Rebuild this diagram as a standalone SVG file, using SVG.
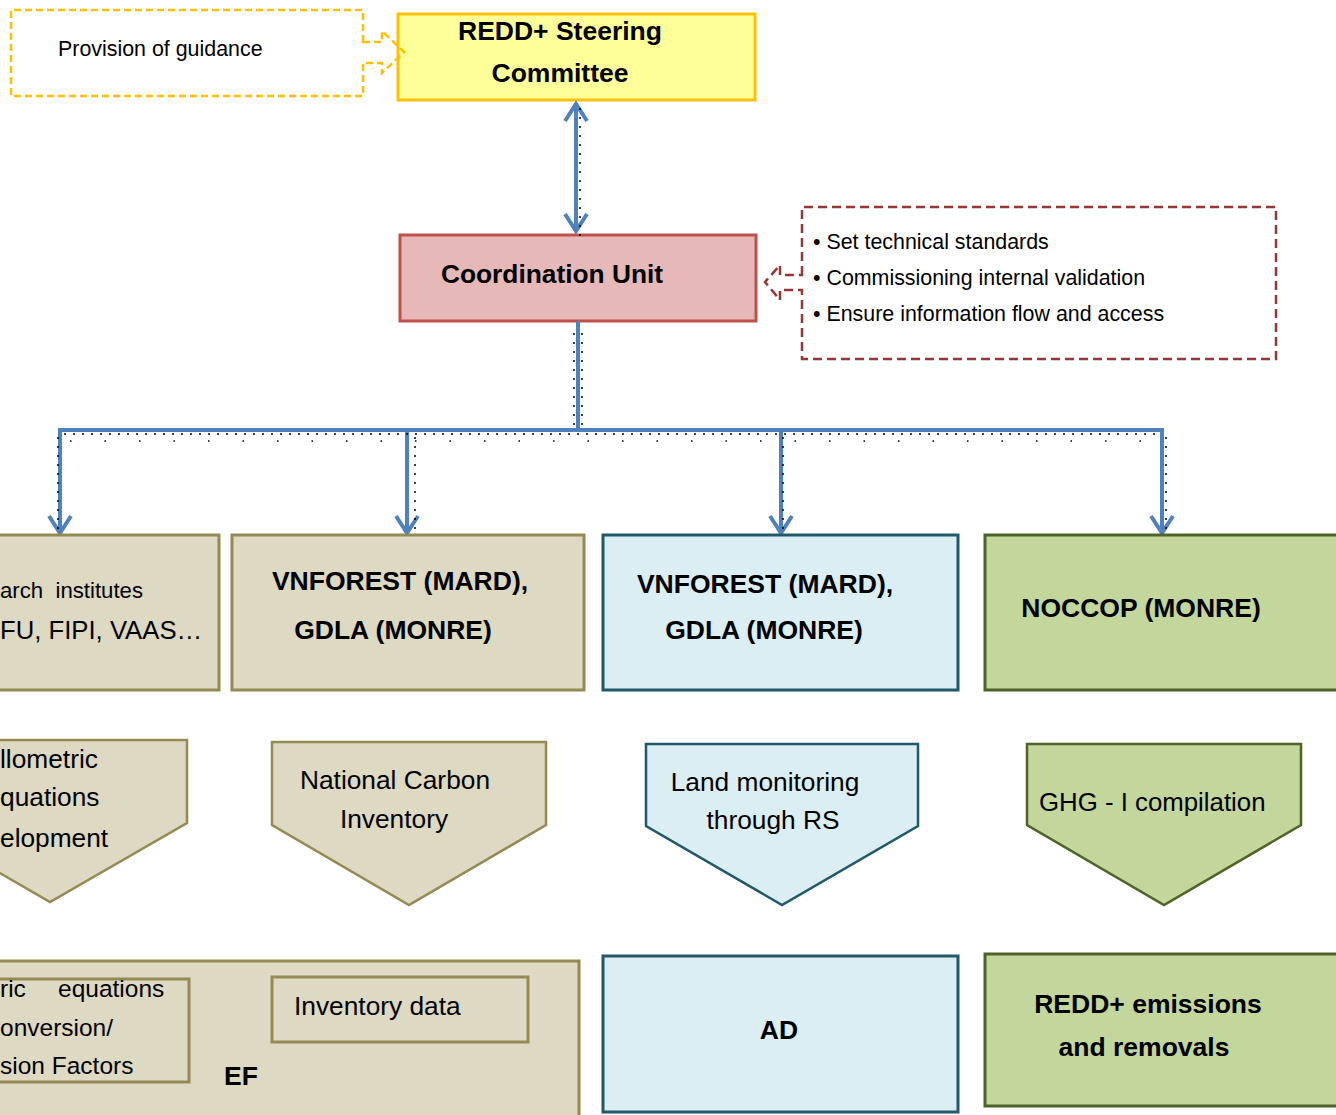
<svg xmlns="http://www.w3.org/2000/svg" width="1336" height="1115" viewBox="0 0 1336 1115">
<style>
text{font-family:"Liberation Sans",Arial,sans-serif;fill:#000}
.b{font-weight:bold;font-size:26.5px}
.r{font-size:26.3px}
.s{font-size:21.4px}
.tan{fill:#DDD9C3;stroke:#948A54;stroke-width:3}
.blue{fill:#DBEEF4;stroke:#215968;stroke-width:3}
.green{fill:#C3D69B;stroke:#4F6228;stroke-width:3}
.conn{fill:none;stroke:#4F81BD;stroke-width:4}
.dots{fill:none;stroke:#000;stroke-width:1.5;stroke-dasharray:2 7}
</style>
<defs>
<marker id="chev" markerUnits="userSpaceOnUse" markerWidth="40" markerHeight="40" viewBox="-20 -20 40 40" refX="0" refY="0" orient="auto-start-reverse" overflow="visible">
<path d="M-17,-11 L0,0 L-17,11" fill="none" stroke="#4F81BD" stroke-width="4" stroke-linejoin="miter"/>
</marker>
</defs>
<rect width="1336" height="1115" fill="#fff"/>

<g id="steering">
<rect x="398" y="14" width="357" height="86" fill="#FFFF99" stroke="#FFC000" stroke-width="3"/>
<text class="b" x="560" y="40" text-anchor="middle">REDD+ Steering</text>
<text class="b" x="560" y="82" text-anchor="middle">Committee</text>
</g>

<g id="guidance">
<path d="M363,42 V10 H11 V96 H363 V63 H382 V73 L404,52 L382,31 V42 Z" fill="none" stroke="#FFC000" stroke-width="2.5" stroke-dasharray="7 4"/>
<text class="s" x="58" y="56">Provision of guidance</text>
</g>

<g id="coordination">
<rect x="400" y="235" width="356" height="86" fill="#E6B9B8" stroke="#C0504D" stroke-width="3"/>
<text class="b" x="441" y="283" style="font-size:26.3px">Coordination Unit</text>
</g>

<g id="tasks">
<path d="M802,275 V207 H1276 V359 H802 V290 H780 V300 L765,282 L780,265 V275 Z" fill="#fff" stroke="#953735" stroke-width="2.5" stroke-dasharray="9 5"/>
<text class="s" x="813" y="249">• Set technical standards</text>
<text class="s" x="813" y="285">• Commissioning internal validation</text>
<text class="s" x="813" y="321">• Ensure information flow and access</text>
</g>

<g id="connectors">
<path class="conn" d="M576,104 V231" marker-start="url(#chev)" marker-end="url(#chev)"/>
<path class="conn" d="M578,321 V430"/>
<path class="conn" d="M60,533 V430 H1162 V533" marker-end="url(#chev)"/>
<path class="conn" d="M407,430 V533" marker-end="url(#chev)"/>
<path class="conn" d="M781,430 V533" marker-end="url(#chev)"/>
<path class="conn" d="M60,430 V533" marker-end="url(#chev)"/>
<path class="dots" d="M580,108 V238"/>
<path class="dots" d="M574,333 V428 M582,333 V428"/>
<path class="dots" d="M64,434 H1158"/>
<path class="dots" d="M70,441 H1150" style="stroke-dasharray:1.5 33"/>
<path class="dots" d="M58,437 V540 M415,437 V540 M783,437 V540 M1166,437 V540"/>
</g>

<g id="research">
<rect x="-20" y="535" width="239" height="155" class="tan"/>
<text x="0" y="598" style="font-size:22.2px" xml:space="preserve">arch  institutes</text>
<text x="0" y="639" style="font-size:25.7px">FU, FIPI, VAAS…</text>
</g>

<g id="vnforest1">
<rect x="232" y="535" width="352" height="155" class="tan"/>
<text class="b" x="400" y="590" text-anchor="middle">VNFOREST (MARD),</text>
<text class="b" x="393" y="639" text-anchor="middle">GDLA (MONRE)</text>
</g>

<g id="vnforest2">
<rect x="603" y="535" width="355" height="155" class="blue"/>
<text class="b" x="765" y="593" text-anchor="middle">VNFOREST (MARD),</text>
<text class="b" x="764" y="639" text-anchor="middle">GDLA (MONRE)</text>
</g>

<g id="noccop">
<rect x="985" y="535" width="370" height="155" class="green"/>
<text class="b" x="1141" y="617" text-anchor="middle">NOCCOP (MONRE)</text>
</g>

<g id="allometric">
<path d="M-87,740 H187 V823 L50,902 L-87,823 Z" class="tan" style="stroke-width:2.5"/>
<text class="r" x="0" y="768">llometric</text>
<text class="r" x="0" y="806">quations</text>
<text class="r" x="0" y="847">elopment</text>
</g>

<g id="carbon">
<path d="M272,742 H546 V825 L409,905 L272,825 Z" class="tan" style="stroke-width:2.5"/>
<text class="r" x="395" y="789" text-anchor="middle">National Carbon</text>
<text class="r" x="394" y="828" text-anchor="middle">Inventory</text>
</g>

<g id="land">
<path d="M646,744 H918 V826 L782,905 L646,826 Z" class="blue" style="stroke-width:2.5"/>
<text class="r" x="765" y="791" text-anchor="middle">Land monitoring</text>
<text class="r" x="773" y="829" text-anchor="middle">through RS</text>
</g>

<g id="ghg">
<path d="M1027,744 H1301 V825 L1164,905 L1027,825 Z" class="green" style="stroke-width:2.5"/>
<text class="r" x="1039" y="811" style="font-size:25.8px">GHG - I compilation</text>
</g>

<g id="ef">
<rect x="-20" y="961" width="599" height="180" class="tan"/>
<rect x="-20" y="979" width="209" height="103" class="tan"/>
<text x="0" y="997" style="font-size:24.5px">ric<tspan x="58">equations</tspan></text>
<text x="0" y="1036" style="font-size:24.5px">onversion/</text>
<text x="0" y="1074" style="font-size:24.5px">sion Factors</text>
<rect x="272" y="977" width="256" height="65" class="tan"/>
<text class="r" x="294" y="1015">Inventory data</text>
<text class="b" x="224" y="1085">EF</text>
</g>

<g id="ad">
<rect x="603" y="956" width="355" height="156" class="blue"/>
<text class="b" x="779" y="1039" text-anchor="middle">AD</text>
</g>

<g id="emissions">
<rect x="985" y="954" width="370" height="152" class="green"/>
<text class="b" x="1148" y="1013" text-anchor="middle">REDD+ emissions</text>
<text class="b" x="1144" y="1056" text-anchor="middle">and removals</text>
</g>
</svg>
